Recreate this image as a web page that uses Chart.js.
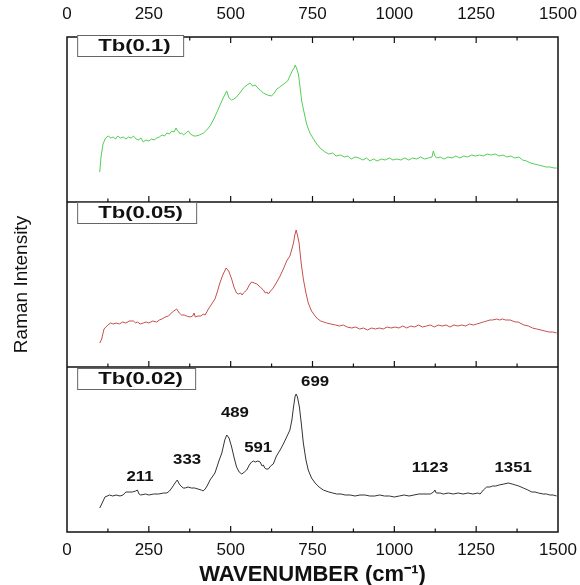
<!DOCTYPE html>
<html>
<head>
<meta charset="utf-8">
<script src="https://cdn.jsdelivr.net/npm/chart.js@4.4.1/dist/chart.umd.min.js"></script>
<style>
  body { margin: 0; background: #fff; }
  canvas { display: block; }
</style>
</head>
<body>
<canvas id="raman" width="580" height="585"></canvas>
<script>
// panel names, top to bottom
const panelNames = ["Tb(0.1)", "Tb(0.05)", "Tb(0.02)"];

// [wavenumber, intensity] (intensity in panel units, 0..165)
const tb01 = [
  [100, 30], [104, 45], [110, 58], [118, 64], [126, 66], [134, 64], [141, 65], [148, 63], [155, 66], [163, 64],
  [172, 65], [180, 63], [188, 65], [196, 64], [203, 66], [211, 63], [218, 62], [226, 64], [233, 60], [241, 62],
  [250, 61], [258, 63], [266, 62], [274, 64], [282, 65], [290, 67], [298, 66], [305, 69], [313, 68], [320, 71],
  [327, 70], [333, 74], [338, 71], [342, 70], [346, 68], [350, 69], [356, 67], [360, 68], [366, 70], [371, 71],
  [377, 68], [382, 67], [388, 66], [394, 66], [405, 67], [417, 69], [427, 72], [437, 76], [447, 82], [457, 89],
  [465, 95], [473, 101], [480, 106], [488, 111], [495, 104], [503, 102], [510, 103], [518, 105], [528, 109], [539, 114],
  [550, 117], [559, 119], [567, 116], [575, 117], [580, 115], [590, 112], [600, 109], [612, 107], [625, 106], [633, 109],
  [641, 113], [650, 115], [658, 117], [666, 119], [674, 121], [681, 126], [688, 131], [694, 134], [697, 137], [701, 134],
  [707, 128], [712, 115], [717, 101], [724, 90], [732, 78], [742, 69], [753, 63], [763, 58], [773, 54], [788, 50],
  [800, 48], [812, 49], [822, 46], [835, 47], [848, 45], [858, 46], [868, 43], [880, 45], [892, 44], [904, 42],
  [915, 44], [926, 41], [936, 43], [948, 41], [960, 43], [972, 42], [985, 44], [996, 42], [1008, 43], [1020, 42],
  [1032, 44], [1044, 42], [1056, 44], [1068, 43], [1080, 45], [1092, 43], [1104, 44], [1115, 45], [1119, 51], [1124, 46],
  [1129, 44], [1140, 45], [1152, 43], [1164, 45], [1176, 44], [1188, 46], [1200, 44], [1212, 46], [1224, 45], [1236, 47],
  [1248, 46], [1260, 47], [1272, 46], [1284, 48], [1296, 47], [1308, 48], [1320, 46], [1332, 47], [1344, 45], [1356, 46],
  [1368, 44], [1380, 45], [1392, 42], [1404, 41], [1416, 39], [1428, 38], [1440, 37], [1452, 36], [1464, 35], [1476, 35],
  [1488, 34], [1496, 34],
];

const tb005 = [
  [100, 24], [106, 28], [113, 38], [125, 42], [133, 44], [141, 43], [150, 44], [160, 43], [170, 45], [180, 44],
  [190, 46], [203, 46], [210, 44], [215, 45], [224, 43], [233, 44], [242, 45], [250, 44], [262, 46], [274, 45],
  [282, 47], [290, 48], [300, 50], [310, 51], [322, 55], [335, 58], [343, 54], [350, 52], [358, 52], [365, 51],
  [376, 50], [384, 51], [388, 54], [392, 50], [400, 51], [410, 51], [416, 53], [422, 52], [432, 58], [442, 63],
  [452, 68], [460, 76], [467, 84], [476, 92], [486, 99], [494, 96], [503, 88], [510, 80], [518, 74], [524, 73],
  [530, 74], [535, 72], [539, 74], [549, 77], [557, 82], [564, 85], [572, 84], [580, 83], [590, 80], [600, 77],
  [606, 74], [611, 75], [615, 73], [622, 76], [630, 79], [641, 85], [651, 91], [661, 98], [671, 106], [681, 111],
  [687, 118], [692, 124], [696, 132], [700, 137], [704, 132], [709, 124], [715, 105], [722, 88], [730, 74], [737, 64],
  [747, 56], [758, 51], [766, 48], [775, 46], [784, 45], [793, 44], [806, 43], [820, 42], [832, 41], [844, 42],
  [856, 40], [870, 39], [882, 40], [894, 38], [906, 39], [918, 37], [930, 39], [942, 38], [954, 39], [966, 38],
  [978, 40], [990, 39], [1002, 40], [1014, 39], [1026, 41], [1038, 39], [1050, 41], [1062, 40], [1074, 42], [1086, 40],
  [1098, 41], [1110, 42], [1122, 40], [1134, 42], [1146, 41], [1158, 42], [1170, 40], [1182, 42], [1194, 41], [1206, 42],
  [1218, 41], [1230, 43], [1241, 42], [1252, 43], [1262, 44], [1272, 45], [1282, 46], [1292, 47], [1300, 47], [1313, 48],
  [1322, 47], [1330, 48], [1340, 47], [1354, 47], [1362, 46], [1370, 45], [1378, 45], [1384, 44], [1396, 42], [1410, 41],
  [1422, 39], [1435, 38], [1448, 37], [1460, 36], [1472, 35], [1484, 35], [1496, 34],
];

const tb002 = [
  [100, 24], [106, 28], [116, 35], [130, 37], [140, 36], [150, 37], [162, 36], [171, 37], [180, 40], [190, 40],
  [200, 40], [210, 41], [215, 42], [220, 38], [225, 37], [240, 38], [250, 37], [265, 38], [280, 38], [295, 39],
  [305, 39], [313, 41], [320, 44], [330, 49], [337, 52], [343, 48], [348, 46], [355, 44], [361, 44], [370, 45],
  [380, 44], [390, 44], [400, 43], [410, 42], [416, 41], [422, 43], [428, 46], [437, 52], [452, 59], [465, 72],
  [473, 79], [482, 92], [488, 97], [495, 94], [503, 85], [510, 75], [518, 65], [526, 60], [534, 58], [542, 60],
  [549, 62], [557, 67], [564, 70], [570, 71], [575, 70], [583, 71], [590, 70], [596, 66], [600, 67], [604, 64],
  [608, 63], [615, 63], [622, 66], [630, 68], [640, 76], [651, 82], [661, 88], [671, 95], [681, 102], [687, 112],
  [692, 125], [697, 136], [700, 138], [704, 135], [710, 125], [716, 108], [722, 89], [730, 72], [737, 62], [747, 54],
  [758, 49], [770, 45], [783, 42], [800, 40], [812, 39], [824, 38], [837, 38], [850, 37], [865, 37], [880, 36],
  [895, 37], [910, 37], [925, 36], [940, 36], [955, 37], [970, 36], [985, 36], [1000, 35], [1015, 36], [1030, 37],
  [1045, 36], [1060, 37], [1075, 38], [1088, 38], [1100, 38], [1110, 38], [1120, 40], [1124, 42], [1128, 39], [1140, 39],
  [1150, 38], [1165, 39], [1180, 38], [1195, 39], [1210, 38], [1225, 39], [1240, 38], [1255, 39], [1262, 38], [1272, 42],
  [1282, 45], [1292, 45], [1300, 46], [1310, 46], [1320, 47], [1335, 48], [1348, 49], [1360, 48], [1370, 47], [1380, 46],
  [1394, 44], [1408, 42], [1420, 40], [1430, 40], [1440, 39], [1455, 38], [1465, 38], [1475, 37], [1485, 37], [1496, 36],
];

// peak labels on the Tb(0.02) panel
const peakLabels = ["211", "333", "489", "591", "699", "1123", "1351"];
const peakLabelX = [223, 367, 513, 584, 758, 1109, 1363];
const peakLabelY = [55, 72, 119, 84, 150, 64, 64];

const xTicks = [0, 250, 500, 750, 1000, 1250, 1500];

const PANEL = 165;

function toPoints(pairs) {
  return pairs.map((p) => ({ x: p[0], y: p[1] }));
}

function drawStretched(ctx, text, x, y, sx) {
  ctx.save();
  ctx.translate(x, y);
  ctx.scale(sx, 1);
  ctx.fillText(text, 0, 0);
  ctx.restore();
}

function fitX(height) {
  return (scale) => {
    scale.height = height;
    scale.paddingLeft = 0;
    scale.paddingRight = 0;
  };
}

const framePlugin = {
  id: "frame",
  afterDraw(chart) {
    const ctx = chart.ctx;
    const area = chart.chartArea;
    const xs = chart.scales.x;
    const yb = chart.scales.yBot;
    const div1 = yb.getPixelForValue(PANEL * 2);
    const div2 = yb.getPixelForValue(PANEL);

    ctx.save();
    ctx.strokeStyle = "#111";
    ctx.lineWidth = 1.5;
    ctx.strokeRect(area.left, area.top, area.right - area.left, area.bottom - area.top);
    ctx.beginPath();
    ctx.moveTo(area.left, div1);
    ctx.lineTo(area.right, div1);
    ctx.moveTo(area.left, div2);
    ctx.lineTo(area.right, div2);
    ctx.stroke();

    // inward ticks
    ctx.lineWidth = 1.2;
    ctx.beginPath();
    for (let v = 125; v < 1500; v += 125) {
      const px = xs.getPixelForValue(v);
      const len = v % 250 === 0 ? 6 : 3.5;
      ctx.moveTo(px, area.top);
      ctx.lineTo(px, area.top + len);
      [div1, div2, area.bottom].forEach((yy) => {
        ctx.moveTo(px, yy);
        ctx.lineTo(px, yy - len);
      });
    }
    ctx.stroke();

    // panel name boxes
    const tops = [area.top - 2, div1, div2 + 1];
    const widths = [106, 119, 118];
    ctx.font = "bold 17px 'Liberation Sans', Arial, sans-serif";
    ctx.textBaseline = "middle";
    ctx.textAlign = "left";
    panelNames.forEach((name, i) => {
      const bx = xs.getPixelForValue(31);
      ctx.fillStyle = "#fff";
      ctx.fillRect(bx, tops[i], widths[i], 21);
      ctx.strokeStyle = "#666";
      ctx.lineWidth = 1;
      ctx.strokeRect(bx + 0.5, tops[i] + 0.5, widths[i], 21);
      ctx.fillStyle = "#111";
      drawStretched(ctx, name, bx + 21, tops[i] + 11.5, 1.3);
    });

    // peak labels
    ctx.font = "bold 14px 'Liberation Sans', Arial, sans-serif";
    ctx.textAlign = "center";
    ctx.fillStyle = "#111";
    peakLabels.forEach((t, i) => {
      drawStretched(ctx, t, xs.getPixelForValue(peakLabelX[i]), yb.getPixelForValue(peakLabelY[i]), 1.2);
    });
    ctx.restore();
  },
};

const tickFont = { family: "'Liberation Sans', Arial, sans-serif", size: 17 };

new Chart(document.getElementById("raman"), {
  type: "line",
  data: {
    datasets: [
      { label: panelNames[0], data: toPoints(tb01), borderColor: "#52cf52", yAxisID: "yTop" },
      { label: panelNames[1], data: toPoints(tb005), borderColor: "#c4504e", yAxisID: "yMid" },
      { label: panelNames[2], data: toPoints(tb002), borderColor: "#333333", yAxisID: "yBot" },
    ],
  },
  options: {
    responsive: false,
    animation: false,
    layout: { padding: { left: 0, right: 22, top: 0, bottom: 0 } },
    elements: {
      line: { borderWidth: 1, tension: 0 },
      point: { radius: 0 },
    },
    plugins: { legend: { display: false }, tooltip: { enabled: false } },
    scales: {
      x: {
        type: "linear",
        position: "bottom",
        min: 0,
        max: 1500,
        afterBuildTicks: (scale) => { scale.ticks = xTicks.map((v) => ({ value: v })); },
        afterFit: fitX(53),
        grid: { display: false, drawTicks: false },
        border: { display: false },
        ticks: { color: "#111", font: tickFont, padding: 8, maxRotation: 0, callback: (v) => String(v) },
        title: {
          display: true,
          text: "WAVENUMBER (cm⁻¹)",
          color: "#111",
          font: { family: "'Liberation Sans', Arial, sans-serif", size: 22, weight: "bold", lineHeight: 0.9 },
          padding: { top: 0, bottom: 0 },
        },
      },
      x2: {
        type: "linear",
        position: "top",
        min: 0,
        max: 1500,
        afterBuildTicks: (scale) => { scale.ticks = xTicks.map((v) => ({ value: v })); },
        afterFit: fitX(37),
        grid: { display: false, drawTicks: false },
        border: { display: false },
        ticks: { color: "#111", font: tickFont, padding: 12, maxRotation: 0, callback: (v) => String(v) },
      },
      yBot: {
        position: "left",
        min: 0,
        max: PANEL * 3,
        afterFit: (scale) => { scale.width = 67; },
        grid: { display: false },
        border: { display: false },
        ticks: { display: false },
        title: {
          display: true,
          text: "Raman Intensity",
          color: "#111",
          font: { family: "'Liberation Sans', Arial, sans-serif", size: 19 },
          padding: { top: 10, bottom: 0 },
        },
      },
      yMid: { display: false, min: -PANEL, max: PANEL * 2 },
      yTop: { display: false, min: -PANEL * 2, max: PANEL },
    },
  },
  plugins: [framePlugin],
});
</script>
</body>
</html>
